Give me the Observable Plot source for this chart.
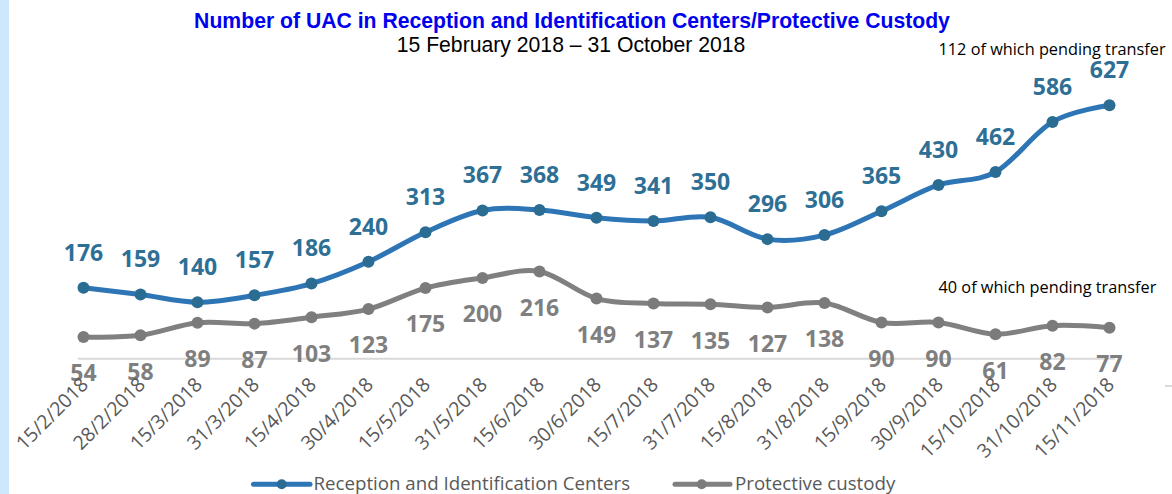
<!DOCTYPE html>
<html>
<head>
<meta charset="utf-8">
<script src="https://cdn.jsdelivr.net/npm/d3@7"></script>
<script src="https://cdn.jsdelivr.net/npm/@observablehq/plot@0.6"></script>
<style>
  html, body { margin: 0; padding: 0; background: #ffffff; }
  #wrap { position: relative; width: 1172px; height: 494px; overflow: hidden; background: #ffffff; }
  #wrap > svg { position: absolute; left: 0; top: 0; }
  #strip { position: absolute; left: 0; top: 0; width: 9px; height: 494px; background: #cde8fc; }
  #stray { position: absolute; left: 1165px; top: 385px; width: 7px; height: 2px; background: #d9d9d9; }
</style>
</head>
<body>
<div id="wrap"><div id="strip"></div><div id="stray"></div></div>
<script>
// ---- data ----
const dates = ["15/2/2018","28/2/2018","15/3/2018","31/3/2018","15/4/2018","30/4/2018","15/5/2018","31/5/2018","15/6/2018","30/6/2018","15/7/2018","31/7/2018","15/8/2018","31/8/2018","15/9/2018","30/9/2018","15/10/2018","31/10/2018","15/11/2018"];
const receptionValues = [176,159,140,157,186,240,313,367,368,349,341,350,296,306,365,430,462,586,627];
const custodyValues = [54,58,89,87,103,123,175,200,216,149,137,135,127,138,90,90,61,82,77];
const seriesNames = ["Reception and Identification Centers", "Protective custody"];
const annotationTexts = ["112 of which pending transfer", "40 of which pending transfer"];
const titleText = "Number of UAC in Reception and Identification Centers/Protective Custody";
const subtitleText = "15 February 2018 \u2013 31 October 2018";

// ---- styles ----
const BLUE = "#2e75b6", BLUE_DOT = "#2b6c93", BLUE_TXT = "#2e6f96";
const GRAY = "#808080", GRAY_DOT = "#7b7b7b", GRAY_TXT = "#7f7f7f";
const AXIS_TXT = "#595959";

const ric = dates.map((d, i) => ({date: d, value: receptionValues[i], series: seriesNames[0]}));
const pc = dates.map((d, i) => ({date: d, value: custodyValues[i], series: seriesNames[1]}));
const lastDate = dates[dates.length - 1];

const chart = Plot.plot({
  width: 1172,
  height: 494,
  marginLeft: 77.7,
  marginRight: 57.2,
  marginTop: 75.3,
  marginBottom: 135.7,
  x: {type: "point", domain: dates, padding: 0, axis: null},
  y: {domain: [0, 700], axis: null},
  style: {fontFamily: "'Open Sans', sans-serif", background: "transparent", overflow: "visible"},
  marks: [
    Plot.ruleY([0], {stroke: "#d9d9d9", strokeWidth: 2}),
    Plot.line(pc, {x: "date", y: "value", stroke: GRAY, strokeWidth: 5, curve: "cardinal"}),
    Plot.dot(pc, {x: "date", y: "value", r: 6, fill: GRAY_DOT}),
    Plot.line(ric, {x: "date", y: "value", stroke: BLUE, strokeWidth: 5, curve: "cardinal"}),
    Plot.dot(ric, {x: "date", y: "value", r: 6, fill: BLUE_DOT}),
    Plot.text(ric, {x: "date", y: "value", text: d => String(d.value), dy: -34.5, fill: BLUE_TXT, fontSize: 23, fontWeight: 700}),
    Plot.text(pc, {x: "date", y: "value", text: d => String(d.value), dy: 37, fill: GRAY_TXT, fontSize: 23, fontWeight: 700}),
    Plot.text(dates, {x: d => d, text: d => d, frameAnchor: "bottom", rotate: -45, textAnchor: "end", dx: 6, dy: 27, fontSize: 19.5, fill: AXIS_TXT}),
    Plot.text([annotationTexts[0]], {x: () => lastDate, y: () => receptionValues[receptionValues.length - 1], text: d => d, textAnchor: "start", dx: -171, dy: -56, fontSize: 16.3, fill: "#000000"}),
    Plot.text([annotationTexts[1]], {x: () => lastDate, y: () => custodyValues[custodyValues.length - 1], text: d => d, textAnchor: "start", dx: -171, dy: -40, fontSize: 16.3, fill: "#000000"})
  ]
});

const wrap = document.getElementById("wrap");
wrap.insertBefore(chart, wrap.firstChild);

// ---- title, subtitle, legend overlay ----
const overlay = d3.create("svg").attr("width", 1172).attr("height", 494).style("pointer-events", "none");
overlay.append("text").attr("x", 572).attr("y", 28.3).attr("text-anchor", "middle")
  .attr("font-family", "'Liberation Sans', Arial, sans-serif").attr("font-weight", 700).attr("font-size", 21.2)
  .attr("fill", "#0000f0").text(titleText);
overlay.append("text").attr("x", 571).attr("y", 52.3).attr("text-anchor", "middle")
  .attr("font-family", "'Liberation Sans', Arial, sans-serif").attr("font-size", 21.2)
  .attr("fill", "#000000").text(subtitleText);

const legendItems = [
  {name: seriesNames[0], stroke: BLUE, dot: BLUE_DOT, x0: 253.5, x1: 310, cx: 281.7, tx: 313.5},
  {name: seriesNames[1], stroke: GRAY, dot: GRAY_DOT, x0: 675, x1: 730, cx: 701.7, tx: 735}
];
const lg = overlay.append("g");
for (const it of legendItems) {
  lg.append("line").attr("x1", it.x0).attr("x2", it.x1).attr("y1", 484.3).attr("y2", 484.3)
    .attr("stroke", it.stroke).attr("stroke-width", 5).attr("stroke-linecap", "round");
  lg.append("circle").attr("cx", it.cx).attr("cy", 484.3).attr("r", 5).attr("fill", it.dot);
  lg.append("text").attr("x", it.tx).attr("y", 490).attr("font-family", "'Open Sans', sans-serif")
    .attr("font-size", 18.7).attr("fill", AXIS_TXT).text(it.name);
}
wrap.appendChild(overlay.node());
</script>
</body>
</html>
